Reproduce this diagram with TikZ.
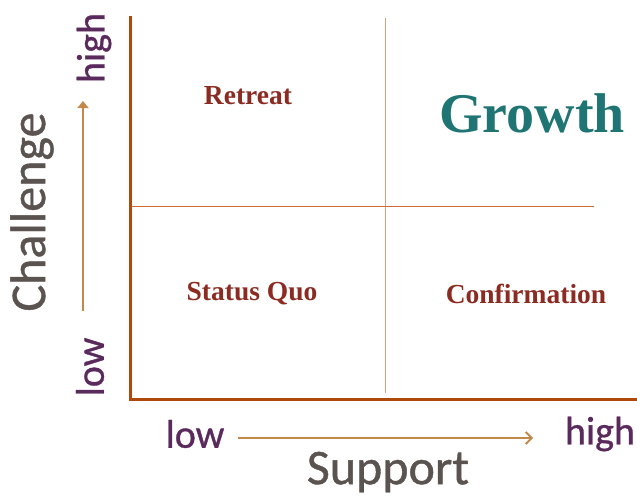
\documentclass[tikz,border=0pt]{standalone}
\usepackage{fontspec}
\setmainfont{Carlito}
\newfontfamily\labelfont[FakeBold=0.8]{Carlito}
\newfontfamily\quadfont{Liberation Serif}
\usetikzlibrary{arrows.meta}
\definecolor{axiscol}{HTML}{B04A0C}
\definecolor{vdivcol}{HTML}{D6A07C}
\definecolor{hdivcol}{HTML}{D26A32}
\definecolor{arrcol}{HTML}{C4884A}
\definecolor{purplecol}{HTML}{5A2A5C}
\definecolor{graycol}{HTML}{5A5350}
\definecolor{redcol}{HTML}{8B2B22}
\definecolor{tealcol}{HTML}{1E7573}
\tikzset{
  axisline/.style={draw=axiscol, line width=3pt},
  vdiv/.style={draw=vdivcol, line width=1.1pt},
  hdiv/.style={draw=hdivcol, line width=1.1pt},
  dirarrow/.style={draw=arrcol, line width=1.8pt},
  levellabel/.style={text=purplecol, font=\labelfont\fontsize{40}{42}\selectfont, inner sep=0pt},
  axistitle/.style={text=graycol, font=\labelfont\fontsize{50}{52}\selectfont, inner sep=0pt},
  quadlabel/.style={text=redcol, font=\quadfont\bfseries\fontsize{27.5}{30}\selectfont, inner sep=0pt},
}
\begin{document}
\begin{tikzpicture}[x=1pt,y=-1pt]
\useasboundingbox (0,0) rectangle (637,498);
% axes
\coordinate (ytop) at (130,16);
\coordinate (origin) at (130,399.5);
\coordinate (xend) at (637,399.5);
\draw[axisline] (ytop) -- (origin) -- (xend);
% dividers
\coordinate (vtop) at (385.5,18);
\coordinate (vbot) at (385.5,393);
\coordinate (hleft) at (131.5,206.5);
\coordinate (hright) at (594,206.5);
\draw[vdiv] (vtop) -- (vbot);
\draw[hdiv] (hleft) -- (hright);
% direction arrows
\coordinate (uparrowfrom) at (83,311);
\coordinate (uparrowto) at (83,101);
\draw[dirarrow, -{Triangle[length=7pt,width=11pt]}] (uparrowfrom) -- (uparrowto);
\coordinate (rarrowfrom) at (238,438);
\coordinate (rarrowto) at (533,438);
\draw[dirarrow, -{Straight Barb[length=6pt,width=12pt]}] (rarrowfrom) -- (rarrowto);
% level labels
\node[levellabel, rotate=90] (yhigh) at (94,48) {high};
\node[levellabel, rotate=90] (ylow) at (90,367) {low};
\node[levellabel] (xlow) at (195,434) {low};
\node[levellabel] (xhigh) at (600,434) {high};
% axis titles
\node[axistitle, rotate=90] (ctitle) at (32,212) {Challenge};
\node[axistitle] (stitle) at (388,472) {Support};
% quadrant labels
\node[quadlabel] (retreat) at (248,96) {Retreat};
\node[quadlabel] (statusquo) at (252,294) {Status Quo};
\node[quadlabel] (confirmation) at (526,294) {Confirmation};
\node[text=tealcol, font=\quadfont\bfseries\fontsize{56}{60}\selectfont, inner sep=0pt] (growth) at (532,113) {Growth};
\end{tikzpicture}
\end{document}
